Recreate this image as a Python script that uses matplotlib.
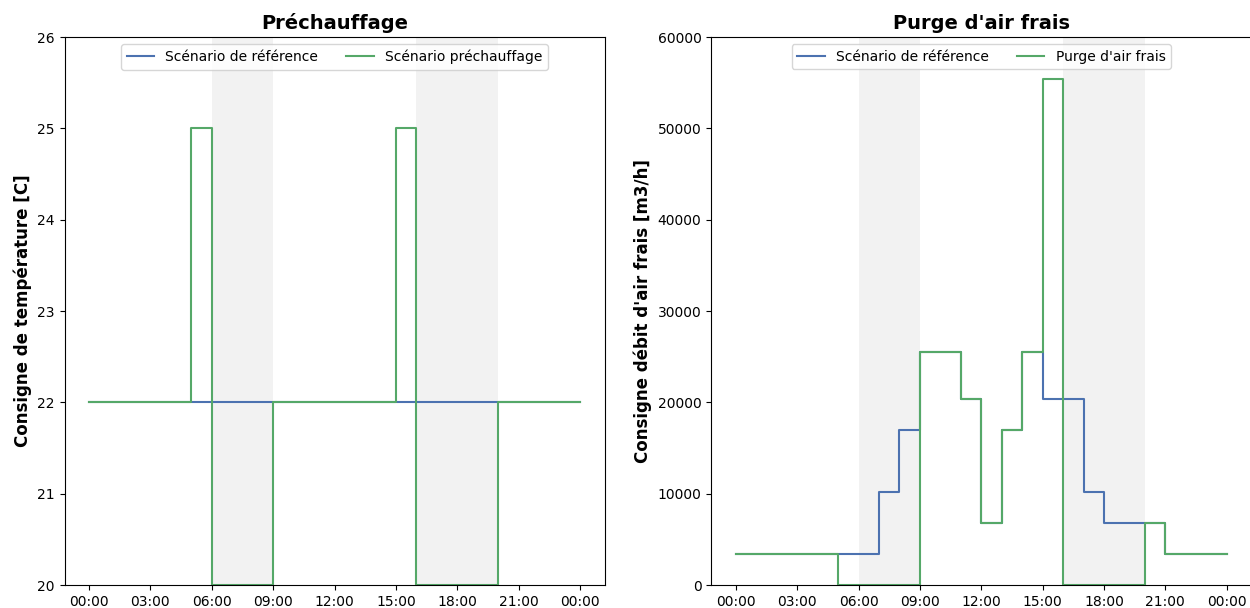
import numpy as np
import pandas as pd
import matplotlib
matplotlib.use("Agg")
import matplotlib.pyplot as plt
import matplotlib.dates as mdates

# hourly setpoints, 00:00 -> 24:00 (25 values, last repeats the end)
hours = pd.date_range("2023-01-01 00:00", periods=25, freq="h")

temp_ref = [22] * 25
temp_pre = [22, 22, 22, 22, 22, 25, 20, 20, 20, 22, 22, 22, 22,
            22, 22, 25, 20, 20, 20, 20, 22, 22, 22, 22, 22]

air_ref = [3400, 3400, 3400, 3400, 3400, 3400, 3400, 10200, 17000, 25500,
           25500, 20400, 6800, 17000, 25500, 20400, 20400, 10200, 6800, 6800,
           6800, 3400, 3400, 3400, 3400]
air_purge = [3400, 3400, 3400, 3400, 3400, 0, 0, 0, 0, 25500,
             25500, 20400, 6800, 17000, 25500, 55400, 0, 0, 0, 0,
             6800, 3400, 3400, 3400, 3400]

occupied = [("2023-01-01 06:00", "2023-01-01 09:00"),
            ("2023-01-01 16:00", "2023-01-01 20:00")]

blue = "#4c72b0"
green = "#55a868"

fig = plt.figure(figsize=(12.5, 6.08), dpi=100)
ax1 = fig.add_axes([0.0516, 0.0378, 0.432, 0.9013])
ax2 = fig.add_axes([0.569, 0.0378, 0.432, 0.9013])


def draw(ax, ref, other, lab_other, title, ylabel, ylim):
    for a, b in occupied:
        ax.axvspan(pd.Timestamp(a), pd.Timestamp(b), color="grey", alpha=0.1, lw=0)
    ax.plot(hours, ref, drawstyle="steps-post", color=blue, lw=1.5,
            label="Scénario de référence")
    ax.plot(hours, other, drawstyle="steps-post", color=green, lw=1.5,
            label=lab_other)
    ax.set_ylim(*ylim)
    ax.set_title(title, fontsize=14, fontweight="bold")
    ax.set_ylabel(ylabel, fontsize=12, fontweight="bold")
    ax.xaxis.set_major_locator(mdates.HourLocator(byhour=range(0, 24, 3)))
    ax.xaxis.set_major_formatter(mdates.DateFormatter("%H:%M"))
    ax.legend(loc="upper center", ncol=2, fontsize=10)


draw(ax1, temp_ref, temp_pre, "Scénario préchauffage", "Préchauffage",
     "Consigne de température [C]", (20, 26))
draw(ax2, air_ref, air_purge, "Purge d'air frais", "Purge d'air frais",
     "Consigne débit d'air frais [m3/h]", (0, 60000))

fig.savefig("out.png", dpi=100)
